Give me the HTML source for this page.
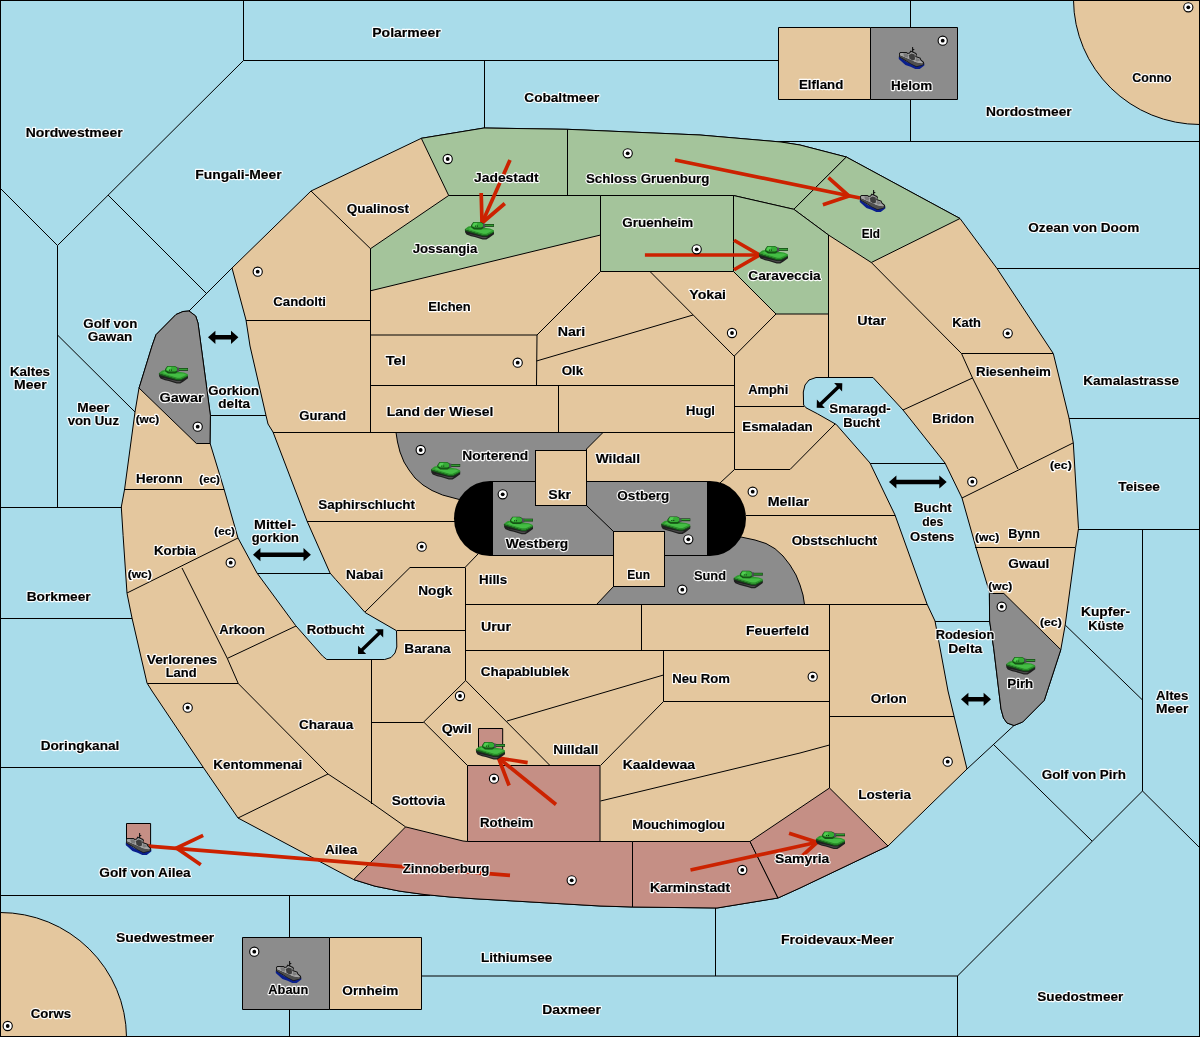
<!DOCTYPE html>
<html><head><meta charset="utf-8"><title>Map</title>
<style>html,body{margin:0;padding:0;background:#a9dcea;}svg{display:block}text{font-family:"Liberation Sans",sans-serif;font-weight:bold;}.h text{fill:#fff;stroke:#fff;stroke-width:2.3px;stroke-opacity:.95;stroke-linejoin:round}.t text{fill:#000;stroke:#000;stroke-width:.18px}.b{fill:none;stroke:#000;stroke-width:1}</style></head><body>
<svg width="1200" height="1037" viewBox="0 0 1200 1037">
<defs>
<symbol id="tank" overflow="visible" shape-rendering="auto">
<polygon points="-0.2,7.6 0.2,10.6 1.5,12.5 6,14.2 9.7,15.1 13.7,16.3 17.7,17.5 21.3,17.5 24.2,15.8 29,12.2 29,9.6 21.7,13.2 18,13.2" fill="#1f1f1f"/>
<polygon points="3,11.8 6,12.9 9.7,13.8 13.7,15 17.7,16.2 20.6,16.2 23.2,14.7 21.7,14.9 18,14.9" fill="#4a4a4a"/>
<polygon points="0,7 18,12.6 21.7,12.6 28.9,9 28.9,10.6 21.7,14.2 18,14.2 0,8.7" fill="#17601a"/>
<polygon points="0,7 3.3,4.6 6.3,4 25,6.6 28.9,8.2 28.9,9.4 21.7,12.9 18,12.9" fill="#2f9c2f"/>
<polygon points="3,7 6,5.2 12,7.5 24.5,7.6 27.4,8.7 21.2,11.7 18,11.7" fill="#44bd44"/>
<polygon points="1,7.4 18,12.7 21.7,12.7 28.2,9.5 21.6,11.9 18.2,11.9" fill="#2a8a2a"/>
<polygon points="8.3,0 15.7,0 18.3,1.3 19.7,5.3 16.3,7.4 9,7.4 6.3,5.5 6,3.3" fill="#155515"/>
<polygon points="8.6,0.5 15.5,0.5 17.8,1.7 18.7,4.2 16,5.6 9.4,5.6 7.2,4.4 7,3.3" fill="#36ac36"/>
<polygon points="9,0.9 12.5,0.9 10.5,4.6 8,4.2 7.6,3.3" fill="#52cc52"/>
<rect x="10" y="3.6" width="1" height="1" fill="#0c300c"/><rect x="12" y="3.6" width="1" height="1" fill="#0c300c"/>
<rect x="18" y="1.6" width="2.2" height="4" fill="#4d4d55"/>
<rect x="20" y="2" width="9" height="2.8" fill="#0f3a0f"/>
<rect x="20" y="2.7" width="8.6" height="1.1" fill="#3cb43c"/>
</symbol>
<symbol id="ship" overflow="visible" shape-rendering="auto">
<polygon points="-0.2,9.6 -0.2,11.9 6.4,18.1 11.5,19.7 16.3,22.1 20.7,22.1 25.3,18.4 25.3,16.5 17,19 8,15" fill="#0a1f8c"/>
<polygon points="0,6.2 1.3,4.9 7.5,4.9 9,6.1 10.4,5.4 11.5,3.6 12.9,4.3 13.1,0 14.1,0 14.2,2 15.3,2 15.3,2.9 14.3,2.9 14.3,4.8 16.7,5.8 18,7 17.3,9.3 21.5,10.7 22.3,12.7 25,14.9 25.2,17.2 23.3,18.6 17.4,20.1 11.5,17.1 5.7,13.4 0,9.9" fill="#141414"/>
<polygon points="0.9,6.6 1.7,5.9 7.1,5.9 8.7,7.1 10.8,6.5 12,4.9 13.5,5.5 16.2,6.7 16.9,7.4 16.2,10 20.7,11.6 21.4,13.3 23.9,15.4 24.1,16.3 22.6,16.7 17,15.7 9,12 0.9,8.5" fill="#a3a3a3"/>
<polygon points="0.8,8.4 9,11.9 17,15.6 22.6,16.6 24.2,16.2 24.3,17.3 23,18 17.4,19.3 11.8,16.4 6,12.8 0.8,9.7" fill="#4f4f4f"/>
<polygon points="4.3,6.2 7,6.2 9.5,8 8.5,10.8 5,9.6" fill="#7a7a7a"/>
<polygon points="9.8,8 12.5,6.6 15.7,7.6 16,12.4 13.5,13.4 10.5,11.8" fill="#3e3e3e"/>
<polygon points="17,11 20.3,12 21,13.6 18,14.6 16.5,13.4" fill="#7d7d7d"/>
</symbol>
<symbol id="sc" overflow="visible" shape-rendering="auto">
<circle cx="0" cy="0" r="4.6" fill="#fff" stroke="#000" stroke-width="1.1"/>
<circle cx="0" cy="0" r="1.9" fill="#000"/>
</symbol>
</defs>
<rect x="0" y="0" width="1200" height="1037" fill="#a9dcea"/>
<g class="b">
<polyline points="243.5,0 243.5,60.5 910.5,60.5"/>
<polyline points="243.5,60.5 57.5,245.5 57.5,507.5"/>
<polyline points="0,188 57.5,245.5"/>
<polyline points="0,507.5 122,507.5"/>
<polyline points="108,195 206,293"/>
<polyline points="232,268 189,311"/>
<polyline points="57.5,335 135,412"/>
<polyline points="484.5,60.5 484.5,128"/>
<polyline points="910.5,0 910.5,141.5"/>
<polyline points="772,141.5 1200,141.5"/>
<polyline points="997,268.5 1200,268.5"/>
<polyline points="1068,418.5 1200,418.5"/>
<polyline points="1078,529.5 1200,529.5"/>
<polyline points="1142.5,529.5 1142.5,791"/>
<polyline points="1065.2,625 1142.5,700"/>
<polyline points="1142.5,791 1200,848"/>
<polyline points="1142.5,791 957.5,976"/>
<polyline points="993,744 1092,841"/>
<polyline points="967,769 1014,725.5"/>
<polyline points="421,976 957.5,976 957.5,1037"/>
<polyline points="715.5,908 715.5,976"/>
<polyline points="289.5,895.5 289.5,1037"/>
<polyline points="0,895.5 430,895.5"/>
<polyline points="0,767.5 203,767.5"/>
<polyline points="0,618.5 132,618.5"/>
<polyline points="210,415.5 266,415.5"/>
<polyline points="257,573.5 330,573.5"/>
<polyline points="870,463.5 945,463.5"/>
<polyline points="934.5,621.5 990,621.5"/>
</g>
<path d="M1073.5,0 A126.5,125.5 0 0 0 1200,124.5 L1200,0 Z" fill="#e4c79e" stroke="#000" stroke-width="1"/>
<path d="M0,912.5 A126.5,125.5 0 0 1 126.5,1037 L0,1037 Z" fill="#e4c79e" stroke="#000" stroke-width="1"/>
<path d="M189,311 L183,311.5 L176,314.5 L156,334.7 L152,346 L140,385 L139,388 L135,412 L124.6,489.2 L121.3,507 L123.1,535.5 L127,593.3 L132,618 L147,683 L152,691 L203,767 L238,818 L353.7,879.6 L375,886.2 L400,891.2 L425,894.6 L450,897 L475,898.8 L500,900.2 L600,906 L632,907 L717,908 L778,898 L800,888 L888,846 L967,769 L954,716 L948,691 L935,621 L927,604 L895,515 L870,463 L836.3,424.5 L817.5,413.8 L806,407.8 L803.6,405 L803.3,392 L805,385 L809,380 L816,377.5 L873,377.5 L903,410 L945,463 L962,498 L976,547.6 L989.4,592 L989.6,621 L993.7,648.2 L1001,709 L1003.5,718 L1007,723 L1014,725.5 L1022.7,722 L1044.3,700.3 L1060.8,649.7 L1065.2,625 L1075.6,547.6 L1078.5,528.5 L1073.3,443 L1069,418 L1053.3,353.5 L1050.3,349 L997,268.5 L960,218.5 L846.3,157 L800,145 L781,142 L700,135 L567.5,129.3 L484,128 L421.3,138.3 L400,148.5 L311,191 L232,268 L246,320 L250,346 L266,415.5 L268,424 L273,432 L307,521 L330,573 L335.5,579.3 L365.2,612.6 L396.5,630.7 L396.8,647 L395,653 L391,657.5 L384.7,659.5 L326.8,659.5 L322.5,656 L295.7,625.6 L257,573 L238,538 L224,489 L210,443 L210.4,415.5 L198,323 L195.7,316 Z" fill="#e4c79e" stroke="#000" stroke-width="1" stroke-linejoin="round"/>
<polygon points="421.3,138.3 484,128 567.5,129.3 567.5,195.5 448.7,195.5" fill="#a4c49b" stroke="#000" stroke-width="1" stroke-linejoin="round"/>
<polygon points="567.5,129.3 700,135 781,142 800,145 846.3,157 793.8,209.3 733.5,195.5 567.5,195.5" fill="#a4c49b" stroke="#000" stroke-width="1" stroke-linejoin="round"/>
<polygon points="846.3,157 960,218.5 871.3,262.5 828.5,235 793.8,209.3" fill="#a4c49b" stroke="#000" stroke-width="1" stroke-linejoin="round"/>
<polygon points="600.5,195.5 733.5,195.5 733.5,271.5 600.5,271.5" fill="#a4c49b" stroke="#000" stroke-width="1" stroke-linejoin="round"/>
<polygon points="733.5,195.5 793.8,209.3 828.5,235 828.5,314 776,314 733.5,271.5" fill="#a4c49b" stroke="#000" stroke-width="1" stroke-linejoin="round"/>
<polygon points="370.5,248.7 448.7,195.5 600.5,195.5 600.5,235 370.5,290.8" fill="#a4c49b" stroke="#000" stroke-width="1" stroke-linejoin="round"/>
<polygon points="189,311 183,311.5 176,314.5 156,334.7 152,346 140,385 139,388 196.4,443.5 210,443.5 210.4,415.5 198,323 195.7,316" fill="#8c8c8c" stroke="#000" stroke-width="1" stroke-linejoin="round"/>
<polygon points="989.4,593.5 1003.9,593.5 1060.8,649.7 1044.3,700.3 1022.7,722 1014,725.5 1007,723 1003.5,718 1001,709 993.7,648.2 989.6,621" fill="#8c8c8c" stroke="#000" stroke-width="1" stroke-linejoin="round"/>
<polygon points="396,432.5 603,432.5 586.5,449 586.5,500 470,501 460,499.7 442.5,495 432,490.5 423,485 415,478 409,470 404,462 400,452 397.5,442" fill="#8c8c8c" stroke="#000" stroke-width="1" stroke-linejoin="round"/>
<polygon points="596.5,604.5 613.5,586.5 664,586 664,540 741,537 755,540 766,543.5 775,548.7 783,556 790,565 796,575 800,585 803,595 804.5,604.5" fill="#8c8c8c" stroke="#000" stroke-width="1" stroke-linejoin="round"/>
<polygon points="870.5,27.5 957.5,27.5 957.5,99.5 870.5,99.5" fill="#8c8c8c" stroke="#000" stroke-width="1" stroke-linejoin="round"/>
<polygon points="242.5,937.5 329.5,937.5 329.5,1009.5 242.5,1009.5" fill="#8c8c8c" stroke="#000" stroke-width="1" stroke-linejoin="round"/>
<polygon points="778.5,27.5 870.5,27.5 870.5,99.5 778.5,99.5" fill="#e4c79e" stroke="#000" stroke-width="1" stroke-linejoin="round"/>
<polygon points="329.5,937.5 421.5,937.5 421.5,1009.5 329.5,1009.5" fill="#e4c79e" stroke="#000" stroke-width="1" stroke-linejoin="round"/>
<polygon points="467.5,765.5 600,765.5 600,841.5 467.5,841.5" fill="#c58f85" stroke="#000" stroke-width="1" stroke-linejoin="round"/>
<polygon points="353.7,879.6 405.6,826.9 463,841 467.5,841.5 632.5,841.5 632.5,907 600,906 500,900.2 475,898.8 450,897 425,894.6 400,891.2 375,886.2" fill="#c58f85" stroke="#000" stroke-width="1" stroke-linejoin="round"/>
<polygon points="632.5,841.5 750,841.5 778,898 717,908 632.5,907" fill="#c58f85" stroke="#000" stroke-width="1" stroke-linejoin="round"/>
<polygon points="750,841.5 829.5,788 888,846 800,888 778,898" fill="#c58f85" stroke="#000" stroke-width="1" stroke-linejoin="round"/>
<polygon points="478.5,728.5 502.7,728.5 502.7,751 478.5,751" fill="#c58f85" stroke="#000" stroke-width="1" stroke-linejoin="round"/>
<polygon points="126.5,823.5 150.6,823.5 150.6,845 126.5,845" fill="#c58f85" stroke="#000" stroke-width="1" stroke-linejoin="round"/>
<g class="b">
<polyline points="124,489.5 224,489.5"/>
<polyline points="238,538 127,593"/>
<polyline points="182,568 227.3,658.4 238.3,683.6 328,774 367.5,800 405.6,826.9"/>
<polyline points="296,626 227.3,658.4"/>
<polyline points="147.5,683.5 238.3,683.5"/>
<polyline points="328,774 238,818"/>
<polyline points="246,320.5 370.5,320.5"/>
<polyline points="370.5,248.7 370.5,432.5"/>
<polyline points="311,191 370.5,248.7"/>
<polyline points="273,432.5 734,432.5"/>
<polyline points="370.5,335 537,335"/>
<polyline points="370.5,385.5 734,385.5"/>
<polyline points="537,335 536.5,385.5"/>
<polyline points="558.5,385.5 558.5,432.5"/>
<polyline points="600.5,271.5 537,335"/>
<polyline points="650,271.5 734,356"/>
<polyline points="693,315 536.5,361"/>
<polyline points="776,314 734.3,356"/>
<polyline points="734.5,356 734.5,469.5"/>
<polyline points="734.5,406.5 804,406.5"/>
<polyline points="734.5,469.5 790,469.5 835,424"/>
<polyline points="734.5,469.5 720,483"/>
<polyline points="307,521.5 456,521.5"/>
<polyline points="365,612 410,567.5 465,567.5 478,554"/>
<polyline points="465.5,567.5 465.5,680.5"/>
<polyline points="397,630.5 465.5,630.5"/>
<polyline points="465.5,604.5 927,604.5"/>
<polyline points="465.5,650.5 830,650.5"/>
<polyline points="641.5,604.5 641.5,650.5"/>
<polyline points="663.5,650.5 663.5,701.5"/>
<polyline points="663.5,701.5 830,701.5"/>
<polyline points="829.5,604.5 829.5,788"/>
<polyline points="829.5,716.5 954,716.5"/>
<polyline points="663.5,675 507,721"/>
<polyline points="663.5,701.5 600.5,765.5"/>
<polyline points="600.5,801 800,753 829.5,745"/>
<polyline points="465.7,680.5 423.7,722 467.5,765.5"/>
<polyline points="465.7,680.5 477,692 550,765.5"/>
<polyline points="371.5,722.5 423.7,722.5"/>
<polyline points="371.5,659.5 371.5,804"/>
<polyline points="746,515.5 895,515.5"/>
<polyline points="828.5,314 828.5,377.5"/>
<polyline points="871.3,262.5 961.5,353.5 972.5,378 1018,469"/>
<polyline points="961.5,353.5 1053,353.5"/>
<polyline points="972.5,378 903,410"/>
<polyline points="1073,443 962,498"/>
<polyline points="975,547.5 1075,547.5"/>
</g>
<rect x="454" y="481" width="292" height="75" rx="36" ry="37.5" fill="#000"/>
<rect x="493" y="482" width="214" height="73" fill="#8c8c8c"/>
<polyline class="b" points="586.5,505.5 613.5,531.5"/>
<rect x="535.5" y="450.5" width="51" height="55" fill="#e4c79e" stroke="#000"/>
<rect x="613.5" y="531.5" width="51" height="55" fill="#e4c79e" stroke="#000"/>
<rect x="0.5" y="0.5" width="1199" height="1036" fill="none" stroke="#000" stroke-width="1"/>
<g fill="none" stroke="#cc2200" stroke-width="3.7">
<polyline points="510,160 482,223"/>
<polyline points="481.195,193.011 482,223 504.799,203.502"/>
<polyline points="675,160 860,198"/>
<polyline points="822.905,204.677 849,196 828.438,177.739"/>
<polyline points="644.9,255 759.6,255"/>
<polyline points="734.052,269.75 759.6,255 734.052,240.25"/>
<polyline points="556,804.5 498.5,758"/>
<polyline points="527.64,762.596 498.5,758 509.09,785.534"/>
<polyline points="510,875.3 148.5,846.2"/>
<polyline points="203.149,835.347 176.5,848 200.782,864.752"/>
<polyline points="690.5,870 817.2,842.2"/>
<polyline points="795.407,862.083 817.2,842.2 789.085,833.268"/>
</g>
<use href="#sc" x="257.7" y="271.7"/>
<use href="#sc" x="447.7" y="159"/>
<use href="#sc" x="627.7" y="153.3"/>
<use href="#sc" x="696.7" y="249.3"/>
<use href="#sc" x="732" y="333"/>
<use href="#sc" x="942.7" y="40.7"/>
<use href="#sc" x="1188.3" y="7.3"/>
<use href="#sc" x="1007.7" y="333.3"/>
<use href="#sc" x="197.7" y="426.7"/>
<use href="#sc" x="230.7" y="562.7"/>
<use href="#sc" x="517.7" y="362.7"/>
<use href="#sc" x="420.7" y="450"/>
<use href="#sc" x="502.7" y="494.3"/>
<use href="#sc" x="752.7" y="491.7"/>
<use href="#sc" x="688.3" y="539.3"/>
<use href="#sc" x="421.7" y="546.7"/>
<use href="#sc" x="682.3" y="589.7"/>
<use href="#sc" x="972.3" y="481.7"/>
<use href="#sc" x="1001.7" y="606.7"/>
<use href="#sc" x="812.7" y="676.7"/>
<use href="#sc" x="187.7" y="707.7"/>
<use href="#sc" x="254.3" y="951.7"/>
<use href="#sc" x="7.7" y="1026"/>
<use href="#sc" x="460" y="696"/>
<use href="#sc" x="494" y="778.7"/>
<use href="#sc" x="571.7" y="880.3"/>
<use href="#sc" x="742.3" y="870"/>
<use href="#sc" x="947.7" y="761.7"/>
<g fill="#000" stroke="none" shape-rendering="auto">
<polygon points="208.0,337.3 215.4,343.9 215.4,339.6 231.0,339.6 231.0,343.9 238.4,337.3 231.0,330.7 231.0,335.0 215.4,335.0 215.4,330.7"/>
<polygon points="253.0,554.7 260.4,561.3 260.4,557.0 303.5,557.0 303.5,561.3 310.9,554.7 303.5,548.1 303.5,552.4 260.4,552.4 260.4,548.1"/>
<polygon points="358.0,653.9 366.2,654.0 363.3,651.1 380.3,634.6 383.2,637.5 383.3,629.3 375.1,629.2 378.0,632.1 361.0,648.6 358.1,645.7"/>
<polygon points="816.7,407.7 824.9,407.9 822.1,404.9 839.3,388.5 842.1,391.5 842.3,383.3 834.1,383.1 836.9,386.1 819.7,402.5 816.9,399.5"/>
<polygon points="889.0,482.0 896.4,488.6 896.4,484.3 939.3,484.3 939.3,488.6 946.7,482.0 939.3,475.4 939.3,479.7 896.4,479.7 896.4,475.4"/>
<polygon points="961.0,699.3 968.4,705.9 968.4,701.6 983.6,701.6 983.6,705.9 991.0,699.3 983.6,692.7 983.6,697.0 968.4,697.0 968.4,692.7"/>
</g>
<use href="#tank" x="465" y="222"/>
<use href="#tank" x="759" y="246"/>
<use href="#tank" x="159" y="366"/>
<use href="#tank" x="431.2" y="462"/>
<use href="#tank" x="504" y="516.7"/>
<use href="#tank" x="661.3" y="516.4"/>
<use href="#tank" x="733.8" y="570.8"/>
<use href="#tank" x="1006.2" y="657"/>
<use href="#tank" x="476" y="742"/>
<use href="#tank" x="816" y="831.5"/>
<use href="#ship" x="899" y="47"/>
<use href="#ship" x="860" y="190"/>
<use href="#ship" x="126" y="833"/>
<use href="#ship" x="276" y="961"/>
<g class="h" style="filter:grayscale(1)">
<text x="25.7" y="137.1" font-size="13.2" textLength="97" lengthAdjust="spacingAndGlyphs">Nordwestmeer</text>
<text x="195.3" y="178.7" font-size="13.2" textLength="86.4" lengthAdjust="spacingAndGlyphs">Fungali-Meer</text>
<text x="346.7" y="213.1" font-size="13.2" textLength="62.3" lengthAdjust="spacingAndGlyphs">Qualinost</text>
<text x="273.3" y="306.1" font-size="13.2" textLength="52.7" lengthAdjust="spacingAndGlyphs">Candolti</text>
<text x="83.3" y="327.7" font-size="13.2" textLength="54" lengthAdjust="spacingAndGlyphs">Golf von</text>
<text x="87.7" y="341.1" font-size="13.2" textLength="44.6" lengthAdjust="spacingAndGlyphs">Gawan</text>
<text x="372.3" y="37.1" font-size="13.2" textLength="68.4" lengthAdjust="spacingAndGlyphs">Polarmeer</text>
<text x="524.3" y="102.1" font-size="13.2" textLength="75" lengthAdjust="spacingAndGlyphs">Cobaltmeer</text>
<text x="474" y="182.1" font-size="13.2" textLength="64.7" lengthAdjust="spacingAndGlyphs">Jadestadt</text>
<text x="586" y="183.1" font-size="13.2" textLength="123.3" lengthAdjust="spacingAndGlyphs">Schloss Gruenburg</text>
<text x="622.3" y="227.1" font-size="13.2" textLength="71" lengthAdjust="spacingAndGlyphs">Gruenheim</text>
<text x="412.7" y="253.1" font-size="13.2" textLength="64.6" lengthAdjust="spacingAndGlyphs">Jossangia</text>
<text x="428.3" y="311.1" font-size="13.2" textLength="42.4" lengthAdjust="spacingAndGlyphs">Elchen</text>
<text x="557.7" y="336.1" font-size="13.2" textLength="27.6" lengthAdjust="spacingAndGlyphs">Nari</text>
<text x="689.3" y="299.4" font-size="13.2" textLength="36.7" lengthAdjust="spacingAndGlyphs">Yokai</text>
<text x="748.3" y="279.7" font-size="13.2" textLength="72.4" lengthAdjust="spacingAndGlyphs">Caraveccia</text>
<text x="799" y="88.7" font-size="13.2" textLength="44.3" lengthAdjust="spacingAndGlyphs">Elfland</text>
<text x="891" y="90.4" font-size="13.2" textLength="41.3" lengthAdjust="spacingAndGlyphs">Helom</text>
<text x="1132.3" y="82.1" font-size="13.2" textLength="39.4" lengthAdjust="spacingAndGlyphs">Conno</text>
<text x="986" y="116.1" font-size="13.2" textLength="85.7" lengthAdjust="spacingAndGlyphs">Nordostmeer</text>
<text x="1028.3" y="232.1" font-size="13.2" textLength="111" lengthAdjust="spacingAndGlyphs">Ozean von Doom</text>
<text x="861.7" y="237.7" font-size="13.2" textLength="18.3" lengthAdjust="spacingAndGlyphs">Eld</text>
<text x="857.3" y="324.7" font-size="13.2" textLength="28.7" lengthAdjust="spacingAndGlyphs">Utar</text>
<text x="952.3" y="327.1" font-size="13.2" textLength="28.7" lengthAdjust="spacingAndGlyphs">Kath</text>
<text x="10" y="375.7" font-size="13.2" textLength="40" lengthAdjust="spacingAndGlyphs">Kaltes</text>
<text x="14" y="389.1" font-size="13.2" textLength="32.7" lengthAdjust="spacingAndGlyphs">Meer</text>
<text x="77.3" y="411.7" font-size="13.2" textLength="32" lengthAdjust="spacingAndGlyphs">Meer</text>
<text x="67.7" y="425.4" font-size="13.2" textLength="51.3" lengthAdjust="spacingAndGlyphs">von Uuz</text>
<text x="135.7" y="423.1" font-size="10.2" textLength="23.6" lengthAdjust="spacingAndGlyphs">(wc)</text>
<text x="159.5" y="401.6" font-size="13.2" textLength="44.1" lengthAdjust="spacingAndGlyphs">Gawar</text>
<text x="208.3" y="394.7" font-size="13.2" textLength="50.7" lengthAdjust="spacingAndGlyphs">Gorkion</text>
<text x="218.3" y="408.1" font-size="13.2" textLength="31.7" lengthAdjust="spacingAndGlyphs">delta</text>
<text x="299.3" y="420.4" font-size="13.2" textLength="46.7" lengthAdjust="spacingAndGlyphs">Gurand</text>
<text x="136" y="483.1" font-size="13.2" textLength="46.7" lengthAdjust="spacingAndGlyphs">Heronn</text>
<text x="199.3" y="483.1" font-size="10.2" textLength="20.7" lengthAdjust="spacingAndGlyphs">(ec)</text>
<text x="214.3" y="535.4" font-size="10.2" textLength="20.7" lengthAdjust="spacingAndGlyphs">(ec)</text>
<text x="154" y="554.7" font-size="13.2" textLength="42" lengthAdjust="spacingAndGlyphs">Korbia</text>
<text x="127.7" y="578.1" font-size="10.2" textLength="24" lengthAdjust="spacingAndGlyphs">(wc)</text>
<text x="254" y="528.7" font-size="13.2" textLength="42" lengthAdjust="spacingAndGlyphs">Mittel-</text>
<text x="251.7" y="542.1" font-size="13.2" textLength="47.3" lengthAdjust="spacingAndGlyphs">gorkion</text>
<text x="318.3" y="509.1" font-size="13.2" textLength="96.7" lengthAdjust="spacingAndGlyphs">Saphirschlucht</text>
<text x="346" y="578.7" font-size="13.2" textLength="37.3" lengthAdjust="spacingAndGlyphs">Nabai</text>
<text x="26.7" y="601.4" font-size="13.2" textLength="64" lengthAdjust="spacingAndGlyphs">Borkmeer</text>
<text x="219.3" y="634.1" font-size="13.2" textLength="45.7" lengthAdjust="spacingAndGlyphs">Arkoon</text>
<text x="306.7" y="634.1" font-size="13.2" textLength="57.6" lengthAdjust="spacingAndGlyphs">Rotbucht</text>
<text x="146.7" y="663.7" font-size="13.2" textLength="70.6" lengthAdjust="spacingAndGlyphs">Verlorenes</text>
<text x="165.7" y="677.4" font-size="13.2" textLength="31" lengthAdjust="spacingAndGlyphs">Land</text>
<text x="385.7" y="365.1" font-size="13.2" textLength="20" lengthAdjust="spacingAndGlyphs">Tel</text>
<text x="386.7" y="416.4" font-size="13.2" textLength="106.6" lengthAdjust="spacingAndGlyphs">Land der Wiesel</text>
<text x="561.7" y="375.4" font-size="13.2" textLength="21.6" lengthAdjust="spacingAndGlyphs">Olk</text>
<text x="748.3" y="394.1" font-size="13.2" textLength="40" lengthAdjust="spacingAndGlyphs">Amphi</text>
<text x="686" y="414.7" font-size="13.2" textLength="29" lengthAdjust="spacingAndGlyphs">Hugl</text>
<text x="742.3" y="431.4" font-size="13.2" textLength="70.4" lengthAdjust="spacingAndGlyphs">Esmaladan</text>
<text x="462.3" y="459.9" font-size="13.2" textLength="66" lengthAdjust="spacingAndGlyphs">Norterend</text>
<text x="595.7" y="463.1" font-size="13.2" textLength="44.3" lengthAdjust="spacingAndGlyphs">Wildall</text>
<text x="548.3" y="499.1" font-size="13.2" textLength="22.7" lengthAdjust="spacingAndGlyphs">Skr</text>
<text x="617.3" y="499.7" font-size="13.2" textLength="52" lengthAdjust="spacingAndGlyphs">Ostberg</text>
<text x="767.7" y="505.7" font-size="13.2" textLength="41.3" lengthAdjust="spacingAndGlyphs">Mellar</text>
<text x="505.7" y="548.1" font-size="13.2" textLength="62.6" lengthAdjust="spacingAndGlyphs">Westberg</text>
<text x="479" y="583.7" font-size="13.2" textLength="28.3" lengthAdjust="spacingAndGlyphs">Hills</text>
<text x="418.3" y="594.7" font-size="13.2" textLength="34" lengthAdjust="spacingAndGlyphs">Nogk</text>
<text x="627.3" y="578.7" font-size="13.2" textLength="22.7" lengthAdjust="spacingAndGlyphs">Eun</text>
<text x="694" y="579.7" font-size="13.2" textLength="32" lengthAdjust="spacingAndGlyphs">Sund</text>
<text x="791.7" y="544.7" font-size="13.2" textLength="85.6" lengthAdjust="spacingAndGlyphs">Obstschlucht</text>
<text x="481" y="630.7" font-size="13.2" textLength="30" lengthAdjust="spacingAndGlyphs">Urur</text>
<text x="404.3" y="653.1" font-size="13.2" textLength="46.4" lengthAdjust="spacingAndGlyphs">Barana</text>
<text x="746" y="634.7" font-size="13.2" textLength="63" lengthAdjust="spacingAndGlyphs">Feuerfeld</text>
<text x="480.7" y="676.4" font-size="13.2" textLength="88.3" lengthAdjust="spacingAndGlyphs">Chapablublek</text>
<text x="672.3" y="683.1" font-size="13.2" textLength="57.7" lengthAdjust="spacingAndGlyphs">Neu Rom</text>
<text x="976" y="376.4" font-size="13.2" textLength="75" lengthAdjust="spacingAndGlyphs">Riesenheim</text>
<text x="1083.3" y="385.4" font-size="13.2" textLength="95.7" lengthAdjust="spacingAndGlyphs">Kamalastrasse</text>
<text x="829.3" y="413.1" font-size="13.2" textLength="61.4" lengthAdjust="spacingAndGlyphs">Smaragd-</text>
<text x="843.3" y="427.1" font-size="13.2" textLength="36.7" lengthAdjust="spacingAndGlyphs">Bucht</text>
<text x="932.3" y="423.1" font-size="13.2" textLength="42" lengthAdjust="spacingAndGlyphs">Bridon</text>
<text x="1050" y="468.7" font-size="10.2" textLength="21.7" lengthAdjust="spacingAndGlyphs">(ec)</text>
<text x="1118.3" y="491.4" font-size="13.2" textLength="41.7" lengthAdjust="spacingAndGlyphs">Teisee</text>
<text x="914" y="512.1" font-size="13.2" textLength="37.7" lengthAdjust="spacingAndGlyphs">Bucht</text>
<text x="922.3" y="526.4" font-size="13.2" textLength="21" lengthAdjust="spacingAndGlyphs">des</text>
<text x="910" y="540.7" font-size="13.2" textLength="44.3" lengthAdjust="spacingAndGlyphs">Ostens</text>
<text x="975" y="541.4" font-size="10.2" textLength="24.3" lengthAdjust="spacingAndGlyphs">(wc)</text>
<text x="1008.3" y="538.1" font-size="13.2" textLength="31.7" lengthAdjust="spacingAndGlyphs">Bynn</text>
<text x="1008.3" y="568.1" font-size="13.2" textLength="41" lengthAdjust="spacingAndGlyphs">Gwaul</text>
<text x="988.3" y="589.7" font-size="10.2" textLength="24" lengthAdjust="spacingAndGlyphs">(wc)</text>
<text x="1040" y="625.7" font-size="10.2" textLength="21.7" lengthAdjust="spacingAndGlyphs">(ec)</text>
<text x="1081" y="616.4" font-size="13.2" textLength="49" lengthAdjust="spacingAndGlyphs">Kupfer-</text>
<text x="1088.3" y="629.7" font-size="13.2" textLength="35.7" lengthAdjust="spacingAndGlyphs">Küste</text>
<text x="935.7" y="638.7" font-size="13.2" textLength="58.6" lengthAdjust="spacingAndGlyphs">Rodesion</text>
<text x="948.3" y="653.1" font-size="13.2" textLength="34" lengthAdjust="spacingAndGlyphs">Delta</text>
<text x="1007.3" y="688.1" font-size="13.2" textLength="26" lengthAdjust="spacingAndGlyphs">Pirh</text>
<text x="40.7" y="749.7" font-size="13.2" textLength="78.6" lengthAdjust="spacingAndGlyphs">Doringkanal</text>
<text x="299" y="729.1" font-size="13.2" textLength="54.3" lengthAdjust="spacingAndGlyphs">Charaua</text>
<text x="213.3" y="769.1" font-size="13.2" textLength="89" lengthAdjust="spacingAndGlyphs">Kentommenai</text>
<text x="325" y="854.1" font-size="13.2" textLength="32.3" lengthAdjust="spacingAndGlyphs">Ailea</text>
<text x="99.3" y="877.1" font-size="13.2" textLength="91.4" lengthAdjust="spacingAndGlyphs">Golf von Ailea</text>
<text x="116" y="942.1" font-size="13.2" textLength="98.3" lengthAdjust="spacingAndGlyphs">Suedwestmeer</text>
<text x="268.3" y="994.1" font-size="13.2" textLength="40" lengthAdjust="spacingAndGlyphs">Abaun</text>
<text x="342.3" y="994.7" font-size="13.2" textLength="56" lengthAdjust="spacingAndGlyphs">Ornheim</text>
<text x="30.7" y="1018.1" font-size="13.2" textLength="40.3" lengthAdjust="spacingAndGlyphs">Corws</text>
<text x="391.7" y="805.2" font-size="13.2" textLength="53.3" lengthAdjust="spacingAndGlyphs">Sottovia</text>
<text x="441.7" y="733.1" font-size="13.2" textLength="30" lengthAdjust="spacingAndGlyphs">Qwil</text>
<text x="553.3" y="753.7" font-size="13.2" textLength="45" lengthAdjust="spacingAndGlyphs">Nilldall</text>
<text x="622.7" y="768.7" font-size="13.2" textLength="72.3" lengthAdjust="spacingAndGlyphs">Kaaldewaa</text>
<text x="480" y="827.4" font-size="13.2" textLength="53.3" lengthAdjust="spacingAndGlyphs">Rotheim</text>
<text x="632.3" y="829.1" font-size="13.2" textLength="92.7" lengthAdjust="spacingAndGlyphs">Mouchimoglou</text>
<text x="402.7" y="873.1" font-size="13.2" textLength="86.6" lengthAdjust="spacingAndGlyphs">Zinnoberburg</text>
<text x="650" y="892.1" font-size="13.2" textLength="80" lengthAdjust="spacingAndGlyphs">Karminstadt</text>
<text x="775" y="863.1" font-size="13.2" textLength="54.3" lengthAdjust="spacingAndGlyphs">Samyria</text>
<text x="481" y="962.1" font-size="13.2" textLength="71.3" lengthAdjust="spacingAndGlyphs">Lithiumsee</text>
<text x="542.3" y="1014.1" font-size="13.2" textLength="58.7" lengthAdjust="spacingAndGlyphs">Daxmeer</text>
<text x="781" y="944.1" font-size="13.2" textLength="113" lengthAdjust="spacingAndGlyphs">Froidevaux-Meer</text>
<text x="870.7" y="703.1" font-size="13.2" textLength="36" lengthAdjust="spacingAndGlyphs">Orlon</text>
<text x="1156" y="699.7" font-size="13.2" textLength="32.3" lengthAdjust="spacingAndGlyphs">Altes</text>
<text x="1156" y="713.1" font-size="13.2" textLength="32.3" lengthAdjust="spacingAndGlyphs">Meer</text>
<text x="1041.7" y="779.1" font-size="13.2" textLength="84.3" lengthAdjust="spacingAndGlyphs">Golf von Pirh</text>
<text x="858.3" y="799.1" font-size="13.2" textLength="52.7" lengthAdjust="spacingAndGlyphs">Losteria</text>
<text x="1037.3" y="1000.7" font-size="13.2" textLength="86" lengthAdjust="spacingAndGlyphs">Suedostmeer</text>
</g>
<g class="t" style="filter:grayscale(1)">
<text x="25.7" y="137.1" font-size="13.2" textLength="97" lengthAdjust="spacingAndGlyphs">Nordwestmeer</text>
<text x="195.3" y="178.7" font-size="13.2" textLength="86.4" lengthAdjust="spacingAndGlyphs">Fungali-Meer</text>
<text x="346.7" y="213.1" font-size="13.2" textLength="62.3" lengthAdjust="spacingAndGlyphs">Qualinost</text>
<text x="273.3" y="306.1" font-size="13.2" textLength="52.7" lengthAdjust="spacingAndGlyphs">Candolti</text>
<text x="83.3" y="327.7" font-size="13.2" textLength="54" lengthAdjust="spacingAndGlyphs">Golf von</text>
<text x="87.7" y="341.1" font-size="13.2" textLength="44.6" lengthAdjust="spacingAndGlyphs">Gawan</text>
<text x="372.3" y="37.1" font-size="13.2" textLength="68.4" lengthAdjust="spacingAndGlyphs">Polarmeer</text>
<text x="524.3" y="102.1" font-size="13.2" textLength="75" lengthAdjust="spacingAndGlyphs">Cobaltmeer</text>
<text x="474" y="182.1" font-size="13.2" textLength="64.7" lengthAdjust="spacingAndGlyphs">Jadestadt</text>
<text x="586" y="183.1" font-size="13.2" textLength="123.3" lengthAdjust="spacingAndGlyphs">Schloss Gruenburg</text>
<text x="622.3" y="227.1" font-size="13.2" textLength="71" lengthAdjust="spacingAndGlyphs">Gruenheim</text>
<text x="412.7" y="253.1" font-size="13.2" textLength="64.6" lengthAdjust="spacingAndGlyphs">Jossangia</text>
<text x="428.3" y="311.1" font-size="13.2" textLength="42.4" lengthAdjust="spacingAndGlyphs">Elchen</text>
<text x="557.7" y="336.1" font-size="13.2" textLength="27.6" lengthAdjust="spacingAndGlyphs">Nari</text>
<text x="689.3" y="299.4" font-size="13.2" textLength="36.7" lengthAdjust="spacingAndGlyphs">Yokai</text>
<text x="748.3" y="279.7" font-size="13.2" textLength="72.4" lengthAdjust="spacingAndGlyphs">Caraveccia</text>
<text x="799" y="88.7" font-size="13.2" textLength="44.3" lengthAdjust="spacingAndGlyphs">Elfland</text>
<text x="891" y="90.4" font-size="13.2" textLength="41.3" lengthAdjust="spacingAndGlyphs">Helom</text>
<text x="1132.3" y="82.1" font-size="13.2" textLength="39.4" lengthAdjust="spacingAndGlyphs">Conno</text>
<text x="986" y="116.1" font-size="13.2" textLength="85.7" lengthAdjust="spacingAndGlyphs">Nordostmeer</text>
<text x="1028.3" y="232.1" font-size="13.2" textLength="111" lengthAdjust="spacingAndGlyphs">Ozean von Doom</text>
<text x="861.7" y="237.7" font-size="13.2" textLength="18.3" lengthAdjust="spacingAndGlyphs">Eld</text>
<text x="857.3" y="324.7" font-size="13.2" textLength="28.7" lengthAdjust="spacingAndGlyphs">Utar</text>
<text x="952.3" y="327.1" font-size="13.2" textLength="28.7" lengthAdjust="spacingAndGlyphs">Kath</text>
<text x="10" y="375.7" font-size="13.2" textLength="40" lengthAdjust="spacingAndGlyphs">Kaltes</text>
<text x="14" y="389.1" font-size="13.2" textLength="32.7" lengthAdjust="spacingAndGlyphs">Meer</text>
<text x="77.3" y="411.7" font-size="13.2" textLength="32" lengthAdjust="spacingAndGlyphs">Meer</text>
<text x="67.7" y="425.4" font-size="13.2" textLength="51.3" lengthAdjust="spacingAndGlyphs">von Uuz</text>
<text x="135.7" y="423.1" font-size="10.2" textLength="23.6" lengthAdjust="spacingAndGlyphs">(wc)</text>
<text x="159.5" y="401.6" font-size="13.2" textLength="44.1" lengthAdjust="spacingAndGlyphs">Gawar</text>
<text x="208.3" y="394.7" font-size="13.2" textLength="50.7" lengthAdjust="spacingAndGlyphs">Gorkion</text>
<text x="218.3" y="408.1" font-size="13.2" textLength="31.7" lengthAdjust="spacingAndGlyphs">delta</text>
<text x="299.3" y="420.4" font-size="13.2" textLength="46.7" lengthAdjust="spacingAndGlyphs">Gurand</text>
<text x="136" y="483.1" font-size="13.2" textLength="46.7" lengthAdjust="spacingAndGlyphs">Heronn</text>
<text x="199.3" y="483.1" font-size="10.2" textLength="20.7" lengthAdjust="spacingAndGlyphs">(ec)</text>
<text x="214.3" y="535.4" font-size="10.2" textLength="20.7" lengthAdjust="spacingAndGlyphs">(ec)</text>
<text x="154" y="554.7" font-size="13.2" textLength="42" lengthAdjust="spacingAndGlyphs">Korbia</text>
<text x="127.7" y="578.1" font-size="10.2" textLength="24" lengthAdjust="spacingAndGlyphs">(wc)</text>
<text x="254" y="528.7" font-size="13.2" textLength="42" lengthAdjust="spacingAndGlyphs">Mittel-</text>
<text x="251.7" y="542.1" font-size="13.2" textLength="47.3" lengthAdjust="spacingAndGlyphs">gorkion</text>
<text x="318.3" y="509.1" font-size="13.2" textLength="96.7" lengthAdjust="spacingAndGlyphs">Saphirschlucht</text>
<text x="346" y="578.7" font-size="13.2" textLength="37.3" lengthAdjust="spacingAndGlyphs">Nabai</text>
<text x="26.7" y="601.4" font-size="13.2" textLength="64" lengthAdjust="spacingAndGlyphs">Borkmeer</text>
<text x="219.3" y="634.1" font-size="13.2" textLength="45.7" lengthAdjust="spacingAndGlyphs">Arkoon</text>
<text x="306.7" y="634.1" font-size="13.2" textLength="57.6" lengthAdjust="spacingAndGlyphs">Rotbucht</text>
<text x="146.7" y="663.7" font-size="13.2" textLength="70.6" lengthAdjust="spacingAndGlyphs">Verlorenes</text>
<text x="165.7" y="677.4" font-size="13.2" textLength="31" lengthAdjust="spacingAndGlyphs">Land</text>
<text x="385.7" y="365.1" font-size="13.2" textLength="20" lengthAdjust="spacingAndGlyphs">Tel</text>
<text x="386.7" y="416.4" font-size="13.2" textLength="106.6" lengthAdjust="spacingAndGlyphs">Land der Wiesel</text>
<text x="561.7" y="375.4" font-size="13.2" textLength="21.6" lengthAdjust="spacingAndGlyphs">Olk</text>
<text x="748.3" y="394.1" font-size="13.2" textLength="40" lengthAdjust="spacingAndGlyphs">Amphi</text>
<text x="686" y="414.7" font-size="13.2" textLength="29" lengthAdjust="spacingAndGlyphs">Hugl</text>
<text x="742.3" y="431.4" font-size="13.2" textLength="70.4" lengthAdjust="spacingAndGlyphs">Esmaladan</text>
<text x="462.3" y="459.9" font-size="13.2" textLength="66" lengthAdjust="spacingAndGlyphs">Norterend</text>
<text x="595.7" y="463.1" font-size="13.2" textLength="44.3" lengthAdjust="spacingAndGlyphs">Wildall</text>
<text x="548.3" y="499.1" font-size="13.2" textLength="22.7" lengthAdjust="spacingAndGlyphs">Skr</text>
<text x="617.3" y="499.7" font-size="13.2" textLength="52" lengthAdjust="spacingAndGlyphs">Ostberg</text>
<text x="767.7" y="505.7" font-size="13.2" textLength="41.3" lengthAdjust="spacingAndGlyphs">Mellar</text>
<text x="505.7" y="548.1" font-size="13.2" textLength="62.6" lengthAdjust="spacingAndGlyphs">Westberg</text>
<text x="479" y="583.7" font-size="13.2" textLength="28.3" lengthAdjust="spacingAndGlyphs">Hills</text>
<text x="418.3" y="594.7" font-size="13.2" textLength="34" lengthAdjust="spacingAndGlyphs">Nogk</text>
<text x="627.3" y="578.7" font-size="13.2" textLength="22.7" lengthAdjust="spacingAndGlyphs">Eun</text>
<text x="694" y="579.7" font-size="13.2" textLength="32" lengthAdjust="spacingAndGlyphs">Sund</text>
<text x="791.7" y="544.7" font-size="13.2" textLength="85.6" lengthAdjust="spacingAndGlyphs">Obstschlucht</text>
<text x="481" y="630.7" font-size="13.2" textLength="30" lengthAdjust="spacingAndGlyphs">Urur</text>
<text x="404.3" y="653.1" font-size="13.2" textLength="46.4" lengthAdjust="spacingAndGlyphs">Barana</text>
<text x="746" y="634.7" font-size="13.2" textLength="63" lengthAdjust="spacingAndGlyphs">Feuerfeld</text>
<text x="480.7" y="676.4" font-size="13.2" textLength="88.3" lengthAdjust="spacingAndGlyphs">Chapablublek</text>
<text x="672.3" y="683.1" font-size="13.2" textLength="57.7" lengthAdjust="spacingAndGlyphs">Neu Rom</text>
<text x="976" y="376.4" font-size="13.2" textLength="75" lengthAdjust="spacingAndGlyphs">Riesenheim</text>
<text x="1083.3" y="385.4" font-size="13.2" textLength="95.7" lengthAdjust="spacingAndGlyphs">Kamalastrasse</text>
<text x="829.3" y="413.1" font-size="13.2" textLength="61.4" lengthAdjust="spacingAndGlyphs">Smaragd-</text>
<text x="843.3" y="427.1" font-size="13.2" textLength="36.7" lengthAdjust="spacingAndGlyphs">Bucht</text>
<text x="932.3" y="423.1" font-size="13.2" textLength="42" lengthAdjust="spacingAndGlyphs">Bridon</text>
<text x="1050" y="468.7" font-size="10.2" textLength="21.7" lengthAdjust="spacingAndGlyphs">(ec)</text>
<text x="1118.3" y="491.4" font-size="13.2" textLength="41.7" lengthAdjust="spacingAndGlyphs">Teisee</text>
<text x="914" y="512.1" font-size="13.2" textLength="37.7" lengthAdjust="spacingAndGlyphs">Bucht</text>
<text x="922.3" y="526.4" font-size="13.2" textLength="21" lengthAdjust="spacingAndGlyphs">des</text>
<text x="910" y="540.7" font-size="13.2" textLength="44.3" lengthAdjust="spacingAndGlyphs">Ostens</text>
<text x="975" y="541.4" font-size="10.2" textLength="24.3" lengthAdjust="spacingAndGlyphs">(wc)</text>
<text x="1008.3" y="538.1" font-size="13.2" textLength="31.7" lengthAdjust="spacingAndGlyphs">Bynn</text>
<text x="1008.3" y="568.1" font-size="13.2" textLength="41" lengthAdjust="spacingAndGlyphs">Gwaul</text>
<text x="988.3" y="589.7" font-size="10.2" textLength="24" lengthAdjust="spacingAndGlyphs">(wc)</text>
<text x="1040" y="625.7" font-size="10.2" textLength="21.7" lengthAdjust="spacingAndGlyphs">(ec)</text>
<text x="1081" y="616.4" font-size="13.2" textLength="49" lengthAdjust="spacingAndGlyphs">Kupfer-</text>
<text x="1088.3" y="629.7" font-size="13.2" textLength="35.7" lengthAdjust="spacingAndGlyphs">Küste</text>
<text x="935.7" y="638.7" font-size="13.2" textLength="58.6" lengthAdjust="spacingAndGlyphs">Rodesion</text>
<text x="948.3" y="653.1" font-size="13.2" textLength="34" lengthAdjust="spacingAndGlyphs">Delta</text>
<text x="1007.3" y="688.1" font-size="13.2" textLength="26" lengthAdjust="spacingAndGlyphs">Pirh</text>
<text x="40.7" y="749.7" font-size="13.2" textLength="78.6" lengthAdjust="spacingAndGlyphs">Doringkanal</text>
<text x="299" y="729.1" font-size="13.2" textLength="54.3" lengthAdjust="spacingAndGlyphs">Charaua</text>
<text x="213.3" y="769.1" font-size="13.2" textLength="89" lengthAdjust="spacingAndGlyphs">Kentommenai</text>
<text x="325" y="854.1" font-size="13.2" textLength="32.3" lengthAdjust="spacingAndGlyphs">Ailea</text>
<text x="99.3" y="877.1" font-size="13.2" textLength="91.4" lengthAdjust="spacingAndGlyphs">Golf von Ailea</text>
<text x="116" y="942.1" font-size="13.2" textLength="98.3" lengthAdjust="spacingAndGlyphs">Suedwestmeer</text>
<text x="268.3" y="994.1" font-size="13.2" textLength="40" lengthAdjust="spacingAndGlyphs">Abaun</text>
<text x="342.3" y="994.7" font-size="13.2" textLength="56" lengthAdjust="spacingAndGlyphs">Ornheim</text>
<text x="30.7" y="1018.1" font-size="13.2" textLength="40.3" lengthAdjust="spacingAndGlyphs">Corws</text>
<text x="391.7" y="805.2" font-size="13.2" textLength="53.3" lengthAdjust="spacingAndGlyphs">Sottovia</text>
<text x="441.7" y="733.1" font-size="13.2" textLength="30" lengthAdjust="spacingAndGlyphs">Qwil</text>
<text x="553.3" y="753.7" font-size="13.2" textLength="45" lengthAdjust="spacingAndGlyphs">Nilldall</text>
<text x="622.7" y="768.7" font-size="13.2" textLength="72.3" lengthAdjust="spacingAndGlyphs">Kaaldewaa</text>
<text x="480" y="827.4" font-size="13.2" textLength="53.3" lengthAdjust="spacingAndGlyphs">Rotheim</text>
<text x="632.3" y="829.1" font-size="13.2" textLength="92.7" lengthAdjust="spacingAndGlyphs">Mouchimoglou</text>
<text x="402.7" y="873.1" font-size="13.2" textLength="86.6" lengthAdjust="spacingAndGlyphs">Zinnoberburg</text>
<text x="650" y="892.1" font-size="13.2" textLength="80" lengthAdjust="spacingAndGlyphs">Karminstadt</text>
<text x="775" y="863.1" font-size="13.2" textLength="54.3" lengthAdjust="spacingAndGlyphs">Samyria</text>
<text x="481" y="962.1" font-size="13.2" textLength="71.3" lengthAdjust="spacingAndGlyphs">Lithiumsee</text>
<text x="542.3" y="1014.1" font-size="13.2" textLength="58.7" lengthAdjust="spacingAndGlyphs">Daxmeer</text>
<text x="781" y="944.1" font-size="13.2" textLength="113" lengthAdjust="spacingAndGlyphs">Froidevaux-Meer</text>
<text x="870.7" y="703.1" font-size="13.2" textLength="36" lengthAdjust="spacingAndGlyphs">Orlon</text>
<text x="1156" y="699.7" font-size="13.2" textLength="32.3" lengthAdjust="spacingAndGlyphs">Altes</text>
<text x="1156" y="713.1" font-size="13.2" textLength="32.3" lengthAdjust="spacingAndGlyphs">Meer</text>
<text x="1041.7" y="779.1" font-size="13.2" textLength="84.3" lengthAdjust="spacingAndGlyphs">Golf von Pirh</text>
<text x="858.3" y="799.1" font-size="13.2" textLength="52.7" lengthAdjust="spacingAndGlyphs">Losteria</text>
<text x="1037.3" y="1000.7" font-size="13.2" textLength="86" lengthAdjust="spacingAndGlyphs">Suedostmeer</text>
</g>
</svg></body></html>
